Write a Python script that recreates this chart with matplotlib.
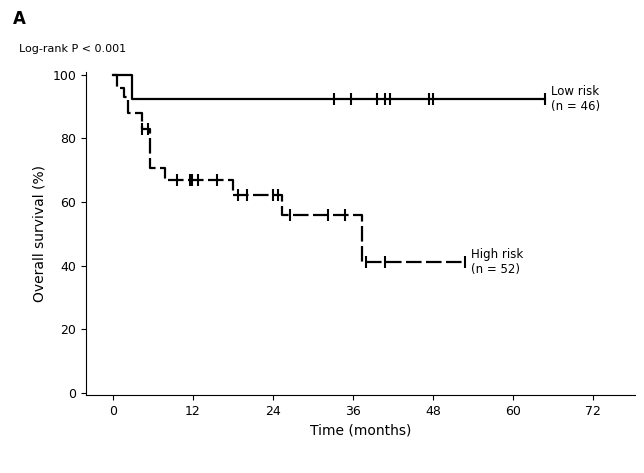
import matplotlib.pyplot as plt
import numpy as np

# group 1 (solid): event times, survival after each event, censor times
g1_event_t = [0.0, 2.85]
g1_surv = [1.0, 0.925]
g1_censor = [33.2, 35.7, 39.6, 40.8, 41.6, 47.3, 48.0]
g1_end = 64.8

# group 2 (dashed)
g2_event_t = [0.0, 0.6, 1.65, 2.25, 4.35, 5.55, 7.8, 18.0, 25.4, 37.4]
g2_surv = [1.0, 0.959, 0.931, 0.88, 0.83, 0.708, 0.67, 0.623, 0.56, 0.412]
g2_censor = [4.35, 5.25, 9.6, 11.55, 11.85, 12.75, 15.6, 18.75, 20.1, 24.0,
             24.75, 26.5, 32.25, 34.8, 37.95, 40.8]
g2_end = 52.8

x_ticks = [0, 12, 24, 36, 48, 60, 72]
y_ticks = [0, 0.2, 0.4, 0.6, 0.8, 1.0]
y_ticklabels = ["0", "20", "40", "60", "80", "100"]
group_labels = ["Low risk\n(n = 46)", "High risk\n(n = 52)"]


def step_value(times, surv, t):
    idx = np.searchsorted(times, t, side="right") - 1
    return surv[idx]


def draw_group(ax, times, surv, censor, end, ls, label):
    xs = list(times) + [end]
    ys = list(surv) + [surv[-1]]
    ax.step(xs, ys, where="post", color="black", lw=1.6, linestyle=ls, label=label)
    cx = censor + [end]
    cy = [step_value(times, surv, c) for c in cx]
    ax.plot(cx, cy, linestyle="none", marker="|", color="black",
            markersize=8, markeredgewidth=1.5)


def main():
    fig = plt.figure(figsize=(6.44, 4.73), dpi=100)
    ax = fig.add_axes([0.1335, 0.165, 0.853, 0.683])

    draw_group(ax, g1_event_t, g1_surv, g1_censor, g1_end, "-", group_labels[0])
    draw_group(ax, g2_event_t, g2_surv, g2_censor, g2_end, (0, (7, 2)), group_labels[1])

    ax.set_xlim(-4.05, 78.3)
    ax.set_ylim(-0.0063, 1.0094)
    ax.set_xticks(x_ticks)
    ax.set_yticks(y_ticks)
    ax.set_yticklabels(y_ticklabels)
    ax.spines["top"].set_visible(False)
    ax.spines["right"].set_visible(False)
    ax.tick_params(labelsize=9)
    ax.set_xlabel("Time (months)", fontsize=10)
    ax.set_ylabel("Overall survival (%)", fontsize=10)

    ax.text(g1_end + 0.8, g1_surv[-1], group_labels[0], fontsize=8.5, va="center")
    ax.text(g2_end + 0.8, g2_surv[-1], group_labels[1], fontsize=8.5, va="center")
    fig.text(0.02, 0.95, "A", fontsize=12, fontweight="bold")
    fig.text(0.03, 0.89, "Log-rank P < 0.001", fontsize=8)

    fig.savefig("out.png", dpi=100)


if __name__ == "__main__":
    main()
